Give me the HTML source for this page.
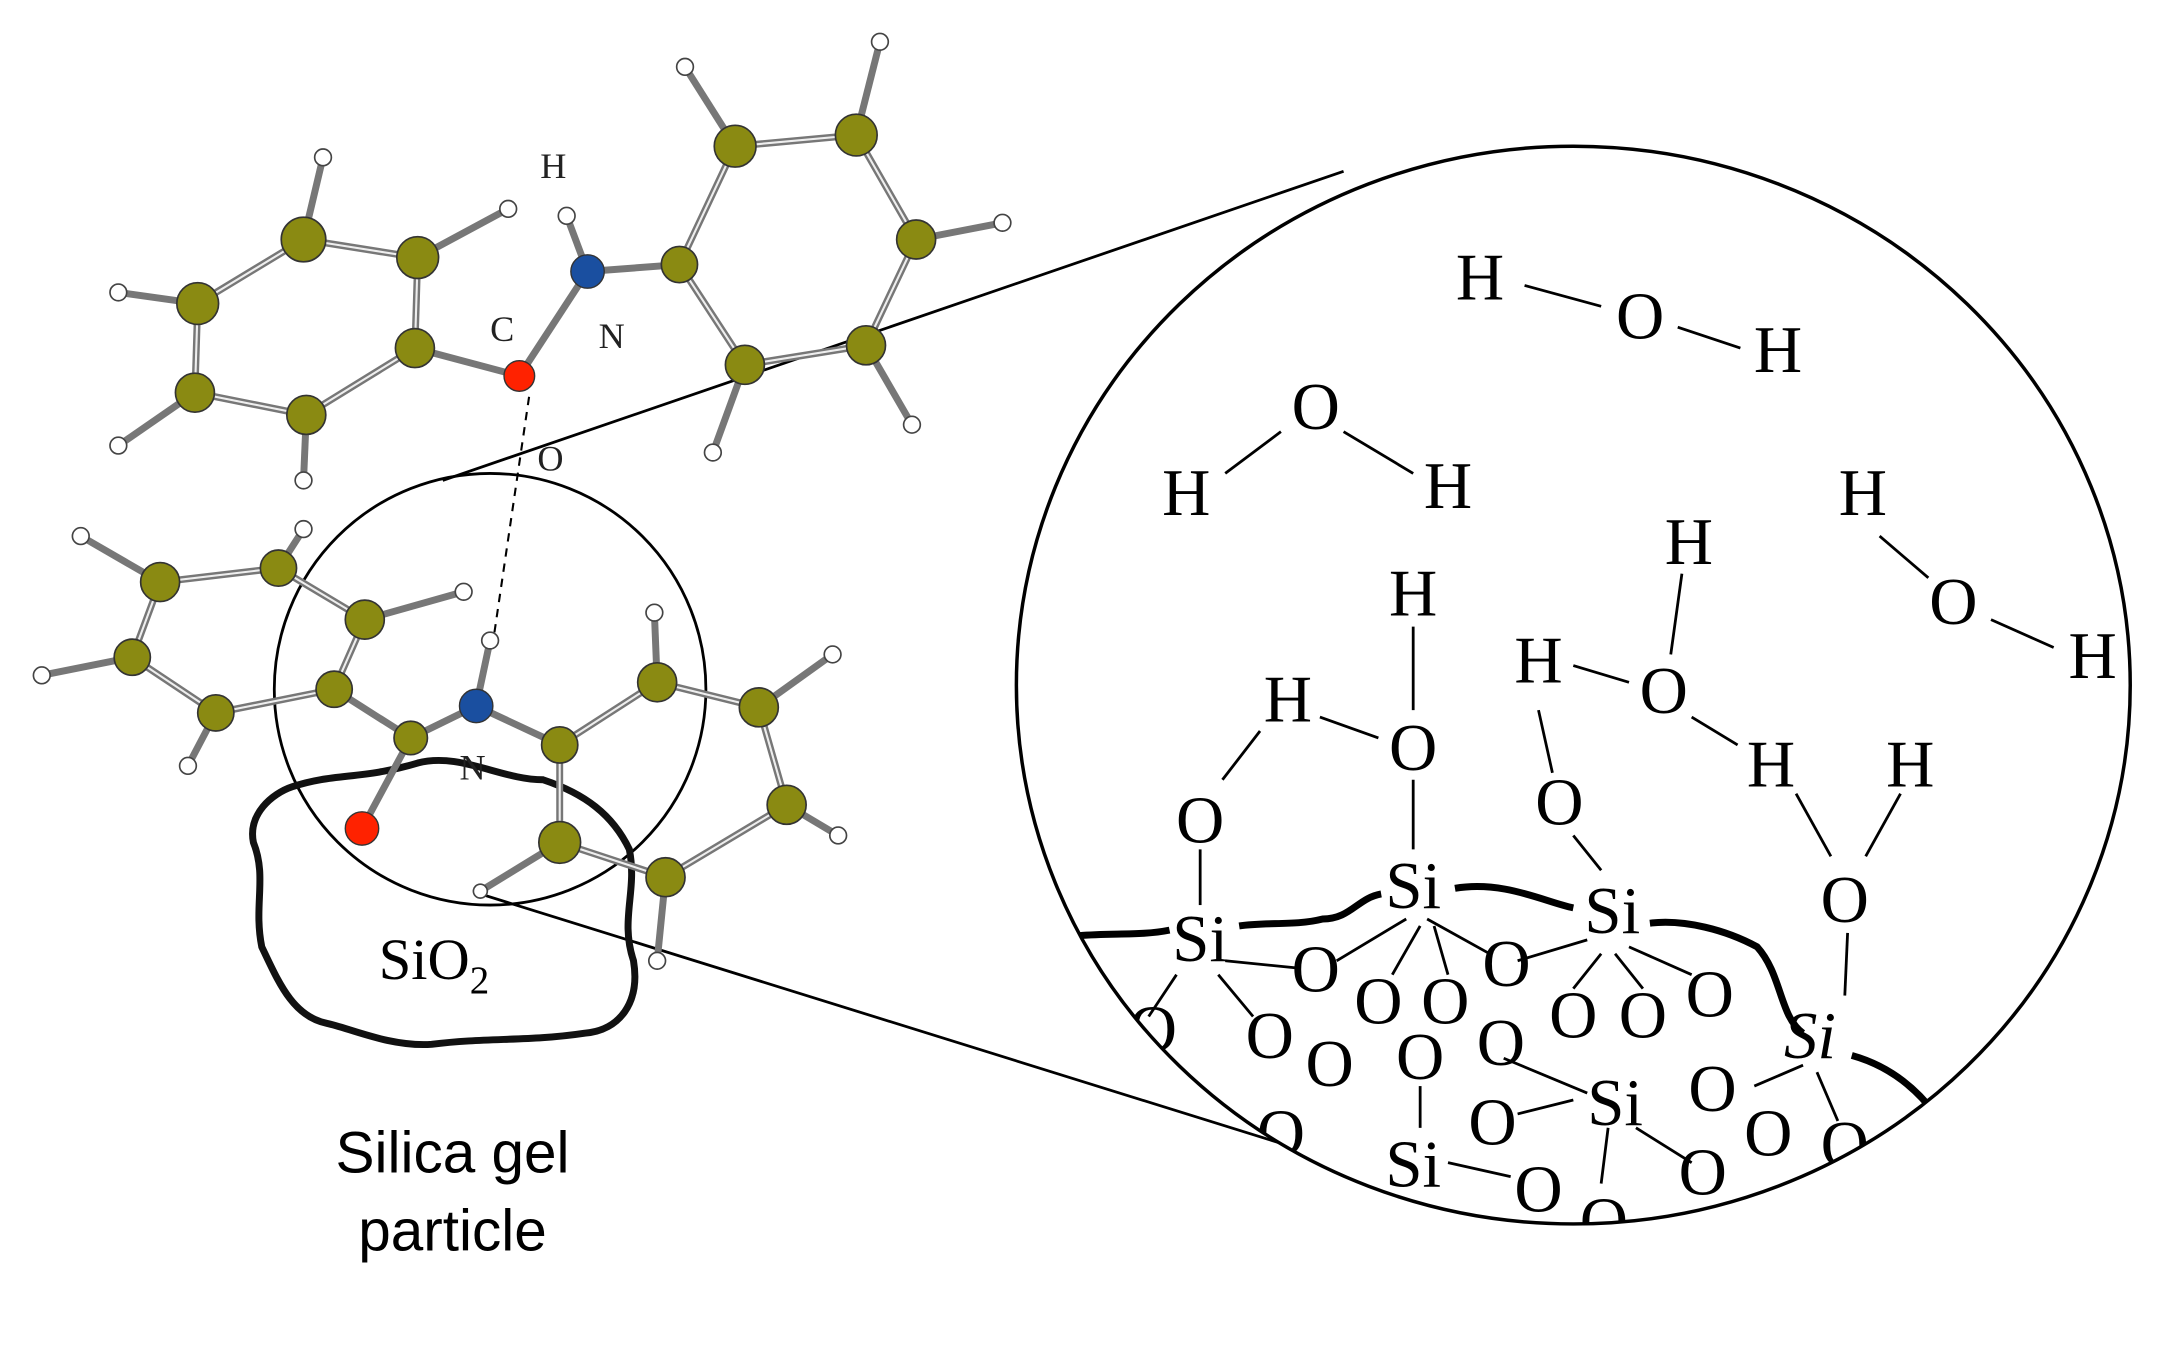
<!DOCTYPE html>
<html><head><meta charset="utf-8"><style>html,body{margin:0;padding:0;background:#fff}svg{display:block}</style></head>
<body>
<svg width="2172" height="1359" viewBox="0 0 1560 976" preserveAspectRatio="none" xmlns="http://www.w3.org/2000/svg">
<defs>
<clipPath id="cc"><ellipse cx="1130" cy="492" rx="400" ry="387"/></clipPath>
</defs>
<rect width="1560" height="976" fill="#fff"/>
<line x1="318" y1="345" x2="965" y2="123" stroke="#000" stroke-width="2"/>
<line x1="345" y1="642" x2="955" y2="832" stroke="#000" stroke-width="2"/>
<circle cx="352" cy="495" r="155" fill="none" stroke="#000" stroke-width="2"/>
<path d="M210,565 C240,555 260,560 300,548 C330,540 360,560 390,560 C420,570 440,585 452,610 C458,640 445,660 455,690 C460,720 445,740 420,742 C380,748 350,745 310,750 C280,752 250,738 235,735 C210,730 200,705 188,680 C182,650 192,630 182,605 C178,585 195,570 210,565 Z" fill="none" stroke="#111" stroke-width="5"/>
<text x="272" y="703" font-family="Liberation Serif, serif" font-size="42">SiO<tspan font-size="28" dy="10">2</tspan></text>
<g stroke="#777" stroke-width="5" fill="none">
<polyline points="218,172 300,185 298,250 220,298 140,282 142,218 218,172"/>
<line x1="218" y1="172" x2="232" y2="113"/><line x1="300" y1="185" x2="365" y2="150"/>
<line x1="142" y1="218" x2="85" y2="210"/><line x1="140" y1="282" x2="85" y2="320"/><line x1="220" y1="298" x2="218" y2="345"/>
<line x1="298" y1="250" x2="373" y2="270"/><line x1="373" y1="270" x2="422" y2="195"/><line x1="422" y1="195" x2="407" y2="155"/><line x1="422" y1="195" x2="488" y2="190"/>
<polyline points="488,190 528,105 615,97 658,172 622,248 535,262 488,190"/>
<line x1="528" y1="105" x2="492" y2="48"/><line x1="615" y1="97" x2="632" y2="30"/><line x1="658" y1="172" x2="720" y2="160"/><line x1="622" y1="248" x2="655" y2="305"/><line x1="535" y1="262" x2="512" y2="325"/>
<polyline points="115,418 200,408 262,445 240,495 155,512 95,472 115,418"/>
<line x1="115" y1="418" x2="58" y2="385"/><line x1="200" y1="408" x2="218" y2="380"/><line x1="262" y1="445" x2="333" y2="425"/><line x1="95" y1="472" x2="30" y2="485"/><line x1="155" y1="512" x2="135" y2="550"/>
<line x1="240" y1="495" x2="295" y2="530"/><line x1="295" y1="530" x2="260" y2="595"/><line x1="295" y1="530" x2="342" y2="507"/><line x1="342" y1="507" x2="352" y2="460"/><line x1="342" y1="507" x2="402" y2="535"/>
<polyline points="402,535 472,490 545,508 565,578 478,630 402,605 402,535"/>
<line x1="472" y1="490" x2="470" y2="440"/><line x1="545" y1="508" x2="598" y2="470"/><line x1="565" y1="578" x2="602" y2="600"/><line x1="478" y1="630" x2="472" y2="690"/><line x1="402" y1="605" x2="345" y2="640"/>
</g>
<g stroke="#eee" stroke-width="1.5" fill="none">
<polyline points="218,172 300,185 298,250 220,298 140,282 142,218 218,172"/>
<polyline points="488,190 528,105 615,97 658,172 622,248 535,262 488,190"/>
<polyline points="115,418 200,408 262,445 240,495 155,512 95,472 115,418"/>
<polyline points="402,535 472,490 545,508 565,578 478,630 402,605 402,535"/>
</g>
<line x1="380" y1="285" x2="355" y2="455" stroke="#000" stroke-width="1.5" stroke-dasharray="6,5"/>
<g fill="#8a8a12" stroke="#333" stroke-width="1.2">
<circle cx="218" cy="172" r="16"/><circle cx="300" cy="185" r="15"/><circle cx="298" cy="250" r="14"/><circle cx="220" cy="298" r="14"/><circle cx="140" cy="282" r="14"/><circle cx="142" cy="218" r="15"/>
<circle cx="488" cy="190" r="13"/><circle cx="528" cy="105" r="15"/><circle cx="615" cy="97" r="15"/><circle cx="658" cy="172" r="14"/><circle cx="622" cy="248" r="14"/><circle cx="535" cy="262" r="14"/>
<circle cx="115" cy="418" r="14"/><circle cx="200" cy="408" r="13"/><circle cx="262" cy="445" r="14"/><circle cx="240" cy="495" r="13"/><circle cx="155" cy="512" r="13"/><circle cx="95" cy="472" r="13"/>
<circle cx="295" cy="530" r="12"/>
<circle cx="402" cy="535" r="13"/><circle cx="472" cy="490" r="14"/><circle cx="545" cy="508" r="14"/><circle cx="565" cy="578" r="14"/><circle cx="478" cy="630" r="14"/><circle cx="402" cy="605" r="15"/>
</g>
<g fill="#fff" stroke="#444" stroke-width="1.2">
<circle cx="232" cy="113" r="6"/><circle cx="365" cy="150" r="6"/><circle cx="85" cy="210" r="6"/><circle cx="85" cy="320" r="6"/><circle cx="218" cy="345" r="6"/>
<circle cx="407" cy="155" r="6"/>
<circle cx="492" cy="48" r="6"/><circle cx="632" cy="30" r="6"/><circle cx="720" cy="160" r="6"/><circle cx="655" cy="305" r="6"/><circle cx="512" cy="325" r="6"/>
<circle cx="58" cy="385" r="6"/><circle cx="218" cy="380" r="6"/><circle cx="333" cy="425" r="6"/><circle cx="30" cy="485" r="6"/><circle cx="135" cy="550" r="6"/>
<circle cx="352" cy="460" r="6"/>
<circle cx="470" cy="440" r="6"/><circle cx="598" cy="470" r="6"/><circle cx="602" cy="600" r="6"/><circle cx="472" cy="690" r="6"/><circle cx="345" cy="640" r="5"/>
</g>
<circle cx="373" cy="270" r="11" fill="#ff2200" stroke="#333"/>
<circle cx="260" cy="595" r="12" fill="#ff2200" stroke="#333"/>
<circle cx="422" cy="195" r="12" fill="#1a4fa0" stroke="#333"/>
<circle cx="342" cy="507" r="12" fill="#1a4fa0" stroke="#333"/>
<g font-family="Liberation Serif, serif" font-size="26" fill="#222">
<text x="388" y="128">H</text><text x="352" y="245">C</text><text x="430" y="250">N</text><text x="386" y="338">O</text><text x="330" y="560">N</text>
</g>
<g font-family="Liberation Sans, sans-serif" font-size="42" text-anchor="middle" fill="#000">
<text x="325" y="842">Silica gel</text><text x="325" y="898">particle</text>
</g>
<ellipse cx="1130" cy="492" rx="400" ry="387" fill="#fff" stroke="#000" stroke-width="2.5"/>
<g clip-path="url(#cc)">
<g stroke="#000" stroke-width="2" fill="none">
<line x1="1095" y1="205" x2="1150" y2="220"/><line x1="1205" y1="235" x2="1250" y2="250"/>
<line x1="880" y1="340" x2="920" y2="310"/><line x1="965" y1="310" x2="1015" y2="340"/>
<line x1="1350" y1="385" x2="1385" y2="415"/><line x1="1430" y1="445" x2="1475" y2="465"/>
<line x1="1015" y1="450" x2="1015" y2="510"/><line x1="948" y1="515" x2="990" y2="530"/>
<line x1="1208" y1="412" x2="1200" y2="470"/><line x1="1130" y1="478" x2="1170" y2="490"/><line x1="1215" y1="515" x2="1248" y2="535"/>
<line x1="905" y1="525" x2="878" y2="560"/><line x1="862" y1="610" x2="862" y2="650"/>
<line x1="1015" y1="560" x2="1015" y2="610"/><line x1="1105" y1="510" x2="1115" y2="555"/><line x1="1130" y1="600" x2="1150" y2="625"/>
<line x1="1290" y1="570" x2="1315" y2="615"/><line x1="1365" y1="570" x2="1340" y2="615"/><line x1="1327" y1="670" x2="1325" y2="715"/>
<line x1="880" y1="690" x2="930" y2="695"/><line x1="875" y1="700" x2="900" y2="730"/><line x1="845" y1="700" x2="825" y2="730"/>
<line x1="1025" y1="660" x2="1070" y2="685"/><line x1="1020" y1="665" x2="1000" y2="700"/><line x1="1010" y1="660" x2="960" y2="690"/><line x1="1030" y1="665" x2="1040" y2="700"/>
<line x1="1170" y1="680" x2="1215" y2="700"/><line x1="1160" y1="685" x2="1180" y2="710"/><line x1="1150" y1="685" x2="1130" y2="710"/><line x1="1140" y1="675" x2="1090" y2="690"/>
<line x1="1020" y1="780" x2="1020" y2="810"/><line x1="1080" y1="760" x2="1140" y2="785"/><line x1="1155" y1="810" x2="1150" y2="850"/><line x1="1175" y1="810" x2="1215" y2="835"/><line x1="1090" y1="800" x2="1130" y2="790"/>
<line x1="1295" y1="765" x2="1260" y2="780"/><line x1="1305" y1="770" x2="1320" y2="805"/>
<line x1="1040" y1="835" x2="1085" y2="845"/>
</g>
<path d="M775,672 C800,670 820,672 840,668 M890,665 C910,662 930,665 950,660 C970,660 975,645 992,642 M1045,638 C1080,632 1110,648 1130,652 M1185,663 C1210,660 1240,668 1262,680 C1280,700 1278,730 1295,742 M1330,758 C1355,765 1375,780 1390,800" stroke="#000" stroke-width="5" fill="none"/>
<g font-family="Liberation Serif, serif" font-size="48" fill="#000" text-anchor="middle">
<text x="1063" y="215">H</text><text x="1178" y="243">O</text><text x="1277" y="267">H</text>
<text x="945" y="308">O</text><text x="852" y="370">H</text><text x="1040" y="365">H</text>
<text x="1338" y="370">H</text><text x="1403" y="448">O</text><text x="1503" y="487">H</text>
<text x="1015" y="442">H</text><text x="1213" y="405">H</text><text x="1105" y="490">H</text><text x="1195" y="512">O</text>
<text x="925" y="518">H</text><text x="1015" y="553">O</text><text x="1272" y="565">H</text><text x="1372" y="565">H</text>
<text x="862" y="605">O</text><text x="1120" y="592">O</text><text x="1325" y="662">O</text>
<text x="1015" y="652">Si</text><text x="1158" y="670">Si</text><text x="862" y="690">Si</text><text x="1300" y="760" font-style="italic">Si</text>
<text x="945" y="712">O</text><text x="1082" y="708">O</text><text x="990" y="735">O</text><text x="1038" y="735">O</text><text x="1130" y="745">O</text><text x="1180" y="745">O</text><text x="1228" y="730">O</text>
<text x="912" y="760">O</text><text x="955" y="780">O</text><text x="1020" y="775">O</text><text x="1078" y="765">O</text><text x="1160" y="808">Si</text><text x="1230" y="798">O</text>
<text x="1270" y="830">O</text><text x="1015" y="852">Si</text><text x="1072" y="822">O</text><text x="1105" y="870">O</text><text x="1223" y="858">O</text><text x="1152" y="893">O</text>
<text x="920" y="830">O</text><text x="828" y="755">O</text><text x="1325" y="838">O</text>
</g>
</g>
</svg>
</body></html>
